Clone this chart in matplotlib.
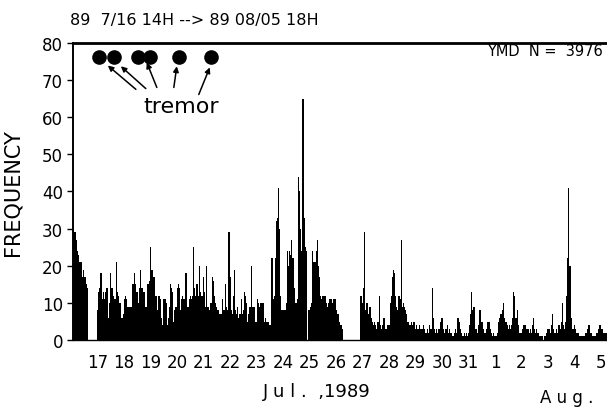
import matplotlib
matplotlib.use('Agg')
import matplotlib.pyplot as plt

# ---- data -------------------------------------------------------------
# hourly event counts from 89/07/16 14h to 89/08/05 18h
hourly_counts = [
    30, 29, 29, 27, 24, 23, 21, 21, 17, 19, 17, 17, 15, 14,
    0, 0, 0, 0, 0, 0, 0, 0,
    8, 13, 14, 18, 11, 13, 11, 13, 14, 14, 6, 10,
    18, 14, 12, 11, 11, 21, 13, 12, 10, 10, 6, 7,
    11, 12, 11, 9, 9, 9, 9, 9, 15, 18, 15, 13,
    13, 10, 14, 19, 14, 14, 13, 9, 9, 15, 15, 16,
    25, 19, 19, 17, 12, 12, 8, 12, 12, 11, 6, 4,
    11, 11, 10, 4, 6, 9, 15, 14, 13, 5, 8, 9,
    14, 15, 14, 8, 11, 12, 11, 11, 18, 9, 9, 11,
    12, 11, 12, 25, 14, 12, 15, 12, 20, 13, 12, 12,
    17, 13, 9, 20, 9, 8, 10, 10, 17, 16, 12, 10,
    9, 8, 7, 7, 7, 11, 8, 8, 15, 9, 8, 29,
    17, 8, 7, 12, 19, 8, 7, 9, 6, 7, 11, 7,
    8, 13, 12, 10, 5, 7, 9, 20, 9, 9, 9, 5,
    5, 11, 10, 9, 10, 10, 10, 5, 6, 5, 5, 5,
    4, 4, 22, 11, 12, 22, 32, 33, 41, 30, 12, 8,
    8, 8, 8, 10, 24, 20, 24, 23, 27, 22, 14, 10,
    10, 11, 44, 40, 30, 24, 65, 33, 25, 24, 0, 8,
    8, 9, 10, 24, 21, 21, 24, 27, 20, 17, 12, 11,
    12, 12, 12, 10, 9, 10, 11, 11, 11, 10, 11, 11,
    8, 7, 7, 5, 4, 4, 3, 0, 0, 0, 0, 0,
    0, 0, 0, 0, 0, 0, 0, 0, 0, 0, 12, 12,
    10, 14, 29, 8, 10, 7, 9, 9, 6, 5, 4, 5,
    4, 3, 5, 12, 4, 3, 4, 6, 6, 3, 3, 4,
    4, 10, 12, 17, 19, 18, 12, 9, 8, 12, 11, 27,
    9, 10, 9, 8, 7, 5, 5, 4, 5, 4, 5, 5,
    3, 4, 3, 3, 4, 3, 3, 4, 3, 2, 2, 3,
    2, 4, 3, 14, 6, 3, 2, 3, 2, 3, 3, 5,
    6, 3, 2, 3, 3, 4, 2, 3, 2, 2, 1, 2,
    3, 2, 6, 6, 5, 3, 2, 1, 2, 1, 2, 1,
    2, 4, 7, 13, 8, 9, 3, 3, 2, 4, 8, 8,
    5, 5, 3, 2, 3, 5, 5, 5, 3, 2, 1, 2,
    1, 1, 2, 5, 6, 7, 7, 8, 10, 6, 5, 4,
    3, 4, 3, 4, 6, 13, 12, 6, 8, 4, 2, 2,
    2, 3, 4, 4, 4, 3, 3, 2, 3, 2, 4, 6,
    3, 2, 3, 2, 1, 1, 1, 1, 0, 1, 1, 2,
    3, 3, 2, 4, 7, 3, 2, 2, 3, 2, 4, 3,
    5, 10, 4, 3, 5, 12, 22, 41, 20, 6, 3, 3,
    4, 3, 2, 2, 2, 1, 1, 1, 1, 1, 2, 2,
    3, 4, 4, 2, 1, 1, 1, 1, 2, 2, 3, 4,
    4, 3, 2, 2, 2, 2,
]
day_labels = ['17', '18', '19', '20', '21', '22', '23', '24', '25', '26',
              '27', '28', '29', '30', '31', '1', '2', '3', '4', '5']
first_noon_hour = 22          # 7/17 12h, counted from 7/16 14h
tremor_hours = [23.5, 37.1, 58.9, 69.7, 96.0, 125.0]
tremor_level = 76.3
y_ticks = [0, 10, 20, 30, 40, 50, 60, 70, 80]
title_text = "89  7/16 14H --> 89 08/05 18H"
count_text = "YMD  N =  3976"

plt.rcParams['font.family'] = ['DejaVu Sans']

# ---- figure -------------------------------------------------------------
fig = plt.figure(figsize=(6.07, 4.10), dpi=100)
ax = fig.add_axes([0.120, 0.168, 0.880, 0.725])

edges = list(range(len(hourly_counts) + 1))
ax.stairs(hourly_counts, edges, fill=True, color='black', linewidth=0)

ax.set_xlim(0, len(hourly_counts))
ax.set_ylim(0, 80)

ax.spines['right'].set_visible(False)
ax.spines['top'].set_linewidth(2.0)
ax.spines['left'].set_linewidth(1.4)
ax.spines['bottom'].set_linewidth(1.0)

ax.set_yticks(y_ticks)
ax.set_yticklabels([str(v) for v in y_ticks], fontsize=12)
ax.tick_params(axis='y', length=4, width=1, direction='out', pad=3)

tick_pos = [first_noon_hour + 24 * i + 0.5 for i in range(len(day_labels))]
ax.set_xticks(tick_pos)
ax.set_xticklabels(day_labels, fontsize=12)
ax.tick_params(axis='x', length=0, pad=9)

ax.set_ylabel('FREQUENCY', fontsize=15, labelpad=14)

# tremor markers
ax.plot(tremor_hours, [tremor_level] * len(tremor_hours), 'o', color='black',
        markersize=9.5, clip_on=False)
arrow_tails = [(57.1, 67.5), (66.1, 67.7), (76.1, 68.0), (91.5, 68.0), (114.1, 66.1)]
arrow_heads = [(31.7, 73.9), (43.5, 73.7), (67.0, 74.7), (94.2, 73.7), (124.1, 73.4)]
for t, h in zip(arrow_tails, arrow_heads):
    ax.annotate('', xy=h, xytext=t,
                arrowprops=dict(arrowstyle='-|>', color='black', lw=1.1,
                                mutation_scale=8, shrinkA=0, shrinkB=0))
ax.text(98, 63, 'tremor', fontsize=16, ha='center', va='center')

# texts
fig.text(70 / 607, 1 - 20 / 410, title_text, fontsize=11.5, ha='left', va='center')
fig.text(603 / 607, 1 - 52 / 410, count_text, fontsize=10.5, ha='right', va='center')
fig.text(317 / 607, 1 - 392 / 410, 'J u l .  ,1989', fontsize=13, ha='center',
         va='center')
fig.text(567 / 607, 1 - 398 / 410, 'A u g .', fontsize=12, ha='center',
         va='center')

fig.savefig('out.png', dpi=100)
